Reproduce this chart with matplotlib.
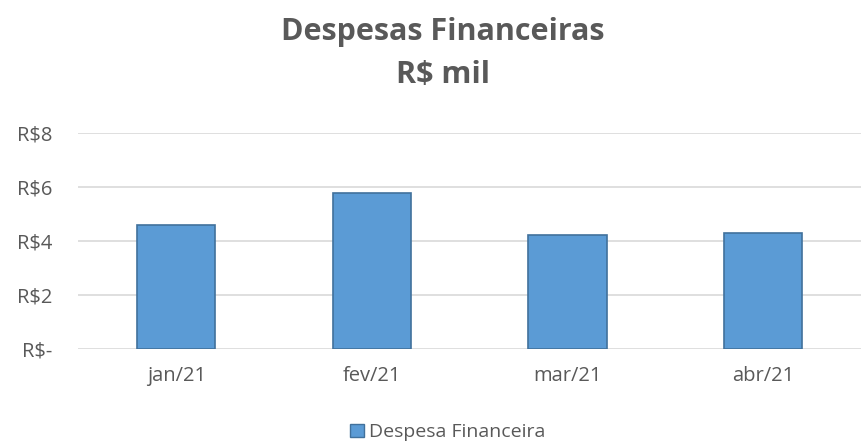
import matplotlib
matplotlib.use("Agg")
import matplotlib.pyplot as plt
from matplotlib.patches import Patch

plt.rcParams["font.family"] = ["Open Sans", "DejaVu Sans"]

months = ["jan/21", "fev/21", "mar/21", "abr/21"]
despesa = [4.6, 5.78, 4.22, 4.3]
y_ticks = [0, 2, 4, 6, 8]
y_labels = ["R$-", "R$2", "R$4", "R$6", "R$8"]

TEXT = "#595959"
BAR = "#5B9BD5"
EDGE = "#41719C"
GRID = "#D9D9D9"

fig = plt.figure(figsize=(8.61, 4.42), dpi=100)
ax = fig.add_axes([0.091, 0.2104, 0.909, 0.4887])

x = range(len(months))
ax.bar(x, despesa, width=0.4, color=BAR, edgecolor=EDGE, linewidth=1.2, zorder=3)

ax.set_xlim(-0.5, len(months) - 0.5)
ax.set_ylim(0, 8)
ax.set_yticks(y_ticks)
ax.set_yticklabels(y_labels)
ax.set_xticks(list(x))
ax.set_xticklabels(months)
ax.grid(axis="y", color=GRID, linewidth=1.2, zorder=0)
ax.tick_params(axis="both", length=0, labelsize=14.5, colors=TEXT)
ax.tick_params(axis="x", pad=12)
ax.tick_params(axis="y", pad=19)
for s in ax.spines.values():
    s.set_visible(False)

fig.text(0.514, 0.928, "Despesas Financeiras", ha="center", va="center",
         fontsize=22, fontweight="bold", color=TEXT)
fig.text(0.514, 0.83, "R$ mil", ha="center", va="center",
         fontsize=22, fontweight="bold", color=TEXT)

handle = Patch(facecolor=BAR, edgecolor=EDGE, label="Despesa Financeira")
fig.legend(handles=[handle], loc="center", bbox_to_anchor=(0.52, 0.022),
           frameon=False, fontsize=14, labelcolor=TEXT,
           handlelength=0.7, handleheight=0.7, handletextpad=0.25,
           borderpad=0)

fig.savefig("out.png", dpi=100)
